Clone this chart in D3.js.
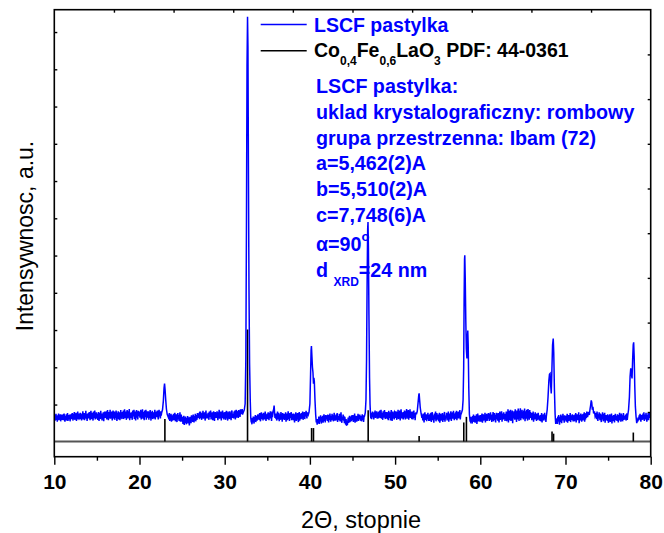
<!DOCTYPE html>
<html>
<head>
<meta charset="utf-8">
<script src="https://d3js.org/d3.v7.min.js"></script>
<style>
  body { margin: 0; background: #fff; }
  text { font-family: "Liberation Sans", Arial, sans-serif; }
</style>
</head>
<body>
<div id="my_dataviz"></div>
<script>
// XRD scan of the LSCF pellet, one row per degree (10.00 ... x.95, step 0.05)
// null = point is taken from the peak detail arrays below
var _ = null
var scanStart = 10, scanStep = 0.05
var scanCounts = [
  [101,112,97,108,115,99,106,94,111,103,116,98,109,100,114,95,107,113,99,110],
  [111,98,105,116,101,94,109,103,114,97,106,117,96,104,112,100,113,95,107,110],
  [114,101,117,106,97,115,108,120,99,111,104,118,96,113,105,121,100,110,116,103],
  [105,118,101,113,97,116,108,122,100,112,117,98,114,104,123,102,111,96,115,107],
  [117,103,120,109,98,115,123,106,101,118,110,97,121,104,114,124,100,112,107,119],
  [102,115,99,111,120,96,108,117,101,123,105,113,97,116,103,119,95,111,121,104],
  [119,105,122,100,114,125,108,98,120,111,103,126,102,116,107,121,97,113,124,106],
  [108,121,99,114,104,124,110,96,118,106,122,100,113,119,98,109,125,103,116,101],
  [120,106,124,101,117,127,104,112,121,99,115,125,108,103,122,111,128,98,118,107],
  [104,119,113,99,124,108,116,126,101,110,121,97,115,125,105,112,100,123,109,118],
  [121,105,114,126,100,118,108,127,102,120,111,98,124,115,106,126,99,117,122,107],
  [108,122,99,116,104,125,111,97,120,106,123,101,114,119,103,110,126,100,117,107],
  [121,106,124,112,100,119,126,108,116,103,122,110,_,_,_,_,_,_,_,_],
  [_,_,_,_,_,_,_,_,113,100,117,96,109,102,115,94,111,104,97,110],
  [115,99,107,118,95,106,114,101,93,110,117,100,112,96,105,119,94,103,113,99],
  [94,107,88,101,110,85,99,91,108,96,87,104,92,109,89,100,106,84,95,107],
  [100,90,111,97,106,93,113,102,92,109,101,115,95,107,112,99,117,104,110,114],
  [116,101,110,121,104,113,99,118,108,123,102,115,106,119,97,111,124,103,114,109],
  [103,118,110,99,121,107,114,124,100,112,105,119,98,115,122,108,96,113,120,104],
  [118,104,122,109,98,119,111,126,102,115,107,121,97,117,110,124,103,114,100,119],
  [106,120,99,114,123,103,111,97,121,108,117,101,122,105,113,98,119,124,104,112],
  [115,103,121,108,124,100,116,126,105,119,110,123,104,125,113,120,107,127,114,122],
  [120,128,113,124,_,_,_,_,_,_,_,_,_,_,_,_,_,_,_,_],
  [_,_,_,96,87,104,92,108,98,89,107,101,112,93,103,110,97,106,114,100],
  [112,99,117,105,95,113,119,101,107,115,97,118,104,111,100,121,108,96,114,103],
  [116,101,119,107,98,117,110,122,103,113,96,121,106,114,124,127,137,120,104,115],
  [102,116,97,111,121,100,109,118,95,114,106,99,120,103,112,94,117,101,110,115],
  [99,113,105,119,94,107,116,98,110,122,101,114,96,117,104,111,120,98,108,113],
  [112,98,116,103,92,114,105,119,96,109,100,117,102,93,111,120,97,106,115,101],
  [117,102,111,121,99,115,106,120,101,118,108,123,112,103,119,114,_,_,_,_],
  [_,_,_,_,_,_,_,_,_,_,_,_,_,_,_,_,99,86,101,90],
  [94,108,88,103,95,111,99,89,107,97,110,91,104,114,96,106,92,112,100,108],
  [109,96,113,101,92,112,99,116,104,94,110,98,115,100,111,95,106,118,97,108],
  [111,97,114,101,117,93,106,109,98,115,103,95,108,119,100,91,107,99,113,102],
  [104,90,107,94,86,101,83,92,85,96,105,91,100,110,93,102,108,95,111,99],
  [99,112,93,107,98,116,91,105,110,100,94,109,103,115,96,108,101,113,104,97],
  [110,95,103,114,98,111,93,107,_,_,_,_,_,_,_,_,_,_,_,_],
  [_,_,_,103,118,101,113,121,106,115,100,119,110,124,104,117,108,122,102,116],
  [117,103,121,109,124,104,115,126,102,118,110,99,122,113,105,125,116,101,120,108],
  [106,120,101,116,98,123,110,104,119,97,113,125,108,96,115,121,103,114,100,120],
  [118,104,122,110,99,120,113,126,101,117,107,124,97,114,127,109,103,119,112,100],
  [120,105,124,111,100,122,115,128,102,118,108,125,99,117,110,127,104,121,114,101],
  [107,121,100,115,124,104,117,98,113,119,_,_,_,_,_,_,_,_,_,_],
  [_,_,_,_,113,97,116,104,92,110,119,99,107,114,95,112,101,118,105,96],
  [112,96,115,102,118,93,107,120,98,111,104,91,116,100,109,121,95,106,117,103],
  [100,113,95,107,118,91,104,115,97,111,102,117,93,108,99,114,120,94,105,110],
  [103,118,97,112,101,121,94,109,116,100,114,122,96,111,105,119,102,123,107,98],
  [116,101,119,106,123,98,113,108,121,103,115,110,125,100,_,_,_,_,_,_],
  [_,_,_,_,_,_,_,_,_,_,_,_,_,_,_,_,_,94,107,99],
  [98,89,109,96,113,93,104,110,91,106,100,114,88,103,116,95,108,99,111,94],
  [101,112,94,107,116,91,104,114,97,109,100,118,92,106,103,115,96,110,102,117],
  [109,96,116,102,119,98,108,93,113,104,120,95,107,117,99,112,92,110,118,101],
  [110,97,117,103,92,114,121,99,111,105,122,94,108,116,100,119,102,113,96,115],
  [104,121,95,117,101,127,92,111,123,98,113,126,96,115,106,124,90,118,103,122],
  [116,99,127,105,120,93,124,109,100,129,114,96,123,106,130,98,118,111,126,103],
  [119,100,124,107,129,95,113,122,102,126,110,97,128,105,118,99,125,104,120,112],
  [113,98,117,103,121,94,109,115,100,119,104,112,96,116,106,99,118,101,110,97],
  [101,112,95,108,117,92,110,99,114,97,106,118,100,111,93,_,_,_,_,_],
  [_,_,_,_,_,_,_,_,_,_,_,_,_,_,_,_,_,_,_,94],
  [103,88,108,95,112,99,86,107,93,113,101,90,110,97,115,98,106,91,111,102],
  [98,110,94,106,115,91,104,112,96,108,100,117,93,105,111,99,114,102,95,109],
  [108,95,113,100,117,92,106,114,98,110,102,119,90,107,112,97,116,103,94,111],
  [112,97,115,101,119,94,110,100,117,104,121,108,_,_,_,_,_,_,_,_],
  [_,_,_,_,_,_,_,_,_,_,_,_,117,101,121,107,96,114,103,119],
  [109,98,116,104,93,113,100,119,107,95,115,102,118,91,108,112,99,111,96,114],
  [99,91,111,97,114,93,106,101,116,89,104,110,96,112,100,92,108,115,98,107],
  [110,96,114,100,92,112,103,118,97,107,94,116,101,111,95,106,117,99,109,102],
  [102,113,97,109,116,99,_,_,_,_,_,_,_,_,_,_,_,_,_,_],
  [_,_,_,_,_,_,_,_,_,_,95,106,98,111,100,115,103,94,112,105],
  [110,99,116,102,119,96,108,113,100,118,105,94,112,103,117,98,114,104,120,107],
  [103]
]

// peak regions read at finer spacing: [2theta, counts]
var peak23 = [[22.6,118],[22.7,126],[22.8,150],[22.88,184],[22.94,196],[23.0,181],[23.08,152],[23.16,128],[23.25,114],[23.35,108]]
var peak33 = [[32.2,120],[32.3,126],[32.4,142],[32.48,260],[32.55,600],[32.62,1050],[32.68,1181],[32.73,1100],[32.78,800],[32.85,450],[32.92,250],[33.0,150],[33.06,104],[33.12,92]]
var peak40 = [[39.8,112],[39.9,120],[40.0,142],[40.08,222],[40.14,286],[40.18,297],[40.24,268],[40.3,240],[40.36,226],[40.42,196],[40.47,212],[40.52,202],[40.6,150],[40.68,112],[40.75,92]]
var peak47 = [[46.4,108],[46.5,118],[46.58,152],[46.65,262],[46.72,480],[46.78,612],[46.82,630],[46.87,560],[46.93,380],[47.0,212],[47.06,140],[47.12,110]]
var peak53 = [[52.5,114],[52.6,122],[52.7,146],[52.78,166],[52.82,170],[52.88,152],[52.95,132],[53.05,116],[53.15,104]]
var peak58 = [[57.7,112],[57.8,118],[57.9,126],[57.98,152],[58.05,240],[58.1,420],[58.15,530],[58.18,541],[58.23,482],[58.3,362],[58.36,290],[58.43,264],[58.48,318],[58.53,339],[58.58,300],[58.65,182],[58.72,114],[58.8,96]]
var peak68 = [[67.75,108],[67.85,126],[67.95,160],[68.05,205],[68.12,221],[68.19,223],[68.26,191],[68.33,170],[68.4,230],[68.48,300],[68.56,317],[68.62,280],[68.7,180],[68.78,114],[68.85,88],[68.92,95]]
var peak73 = [[72.6,108],[72.7,120],[72.8,112],[72.88,128],[72.95,138],[73.02,151],[73.08,146],[73.15,126],[73.22,134],[73.3,116],[73.4,122],[73.48,108],[73.55,112]]
var peak78 = [[77.3,110],[77.4,126],[77.5,160],[77.58,215],[77.66,237],[77.74,221],[77.81,210],[77.88,260],[77.95,300],[78.0,307],[78.06,270],[78.13,190],[78.2,135],[78.28,108],[78.36,90],[78.45,98]]
var peaks = [peak23, peak33, peak40, peak47, peak53, peak58, peak68, peak73, peak78]

// reference pattern Co0,4Fe0,6LaO3, PDF 44-0361 (relative intensity, %)
var pdfAngles = [22.98, 32.68, 40.2, 40.42, 46.84, 52.82, 58.06, 58.37, 68.42, 68.6, 77.96]
var pdfIntensities = [20, 100, 12, 12, 28, 5, 17, 22, 9, 7, 8]

var xTicks = [10, 20, 30, 40, 50, 60, 70, 80]
var xMinorTicks = [15, 25, 35, 45, 55, 65, 75]

var legendLabels = ["LSCF pastylka", "PDF: 44-0361"]
var infoLines = ["LSCF pastylka:", "uklad krystalograficzny: rombowy", "grupa przestrzenna: Ibam (72)",
  "a=5,462(2)A", "b=5,510(2)A", "c=7,748(6)A"]

// set the dimensions and margins of the graph
var margin = { top: 9.7, right: 13.3, bottom: 76.3, left: 54.3 },
  width = 664 - margin.left - margin.right,
  height = 533 - margin.top - margin.bottom;

var root = d3.select("#my_dataviz")
  .append("svg")
  .attr("width", width + margin.left + margin.right)
  .attr("height", height + margin.top + margin.bottom)

var svg = root.append("g")
  .attr("transform", "translate(" + margin.left + "," + margin.top + ")");

var x = d3.scaleLinear().domain([10, 80]).range([0, width])
var y = d3.scaleLinear().domain([0, 1200]).range([height, 0])
// the stick pattern sits on its own baseline under the scan
var yPdf = d3.scaleLinear().domain([0, 100]).range([height - 15.2, height - 127.2])

// build the scan: coarse points outside peak windows + peak detail
var scan = []
scanCounts.forEach(function (row, r) {
  row.forEach(function (v, j) {
    var a = Math.round((scanStart + r + j * scanStep) * 100) / 100
    if (v == null) return
    var inPeak = peaks.some(function (p) { return a >= p[0][0] - 1e-6 && a <= p[p.length - 1][0] + 1e-6 })
    if (!inPeak) scan.push([a, v])
  })
})
peaks.forEach(function (p) { scan = scan.concat(p) })
scan.sort(function (a, b) { return a[0] - b[0] })

svg.append("clipPath").attr("id", "clip")
  .append("rect").attr("width", width).attr("height", height)

// baseline of the PDF pattern
svg.append("line")
  .attr("x1", 0).attr("x2", width)
  .attr("y1", yPdf(0)).attr("y2", yPdf(0))
  .style("stroke", "#555").style("stroke-width", 1.8)

// PDF sticks
svg.selectAll("pdfStick")
  .data(pdfAngles)
  .enter()
  .append("line")
  .attr("x1", function (d) { return x(d) })
  .attr("x2", function (d) { return x(d) })
  .attr("y1", yPdf(0))
  .attr("y2", function (d, i) { return yPdf(pdfIntensities[i]) })
  .style("stroke", "black")
  .style("stroke-width", 1.6)

// the measured scan
svg.append("path")
  .datum(scan)
  .attr("clip-path", "url(#clip)")
  .attr("d", d3.line().x(function (d) { return x(d[0]) }).y(function (d) { return y(d[1]) }))
  .style("fill", "none")
  .style("stroke", "#0000ff")
  .style("stroke-width", 1.5)

// axes
var xAxis = svg.append("g")
  .attr("transform", "translate(0," + height + ")")
  .call(d3.axisBottom(x).tickValues(xTicks).tickSize(8).tickPadding(9).tickFormat(d3.format("d")))
xAxis.selectAll("text")
  .style("font-size", "21px").style("font-weight", "bold").style("fill", "black")
  .style("font-family", '"Liberation Sans", Arial, sans-serif')

svg.append("g")
  .attr("transform", "translate(0," + height + ")")
  .call(d3.axisBottom(x).tickValues(xMinorTicks).tickSize(4).tickFormat(""))

svg.append("g")
  .call(d3.axisLeft(y).tickValues(d3.range(140, 1141, 100)).tickSize(-3).tickFormat(""))

var div = d3.scaleLinear().domain([0, 10])
svg.append("g")
  .call(d3.axisTop(div.copy().range([0, width])).tickValues(d3.range(1, 10)).tickSize(-3).tickFormat(""))
svg.append("g")
  .attr("transform", "translate(" + width + ",0)")
  .call(d3.axisRight(div.copy().range([height, 0])).tickValues(d3.range(1, 10)).tickSize(-3).tickFormat(""))

svg.selectAll(".domain").remove()
svg.selectAll(".tick line").style("stroke", "black").style("stroke-width", 1.4)

// frame
svg.append("rect")
  .attr("width", width).attr("height", height)
  .style("fill", "none").style("stroke", "black").style("stroke-width", 1.6)

// axis titles
root.append("text")
  .attr("transform", "translate(33,236) rotate(-90)")
  .attr("text-anchor", "middle")
  .style("font-size", "23px")
  .text("Intensywnosc, a.u.")

root.append("text")
  .attr("x", 361).attr("y", 528)
  .attr("text-anchor", "middle")
  .style("font-size", "23.5px")
  .text("2\u0398, stopnie")

// legend
var legend = root.append("g").style("font-size", "19.5px").style("font-weight", "bold")
legend.append("line").attr("x1", 260.7).attr("x2", 306.7).attr("y1", 24.5).attr("y2", 24.5)
  .style("stroke", "#0000ff").style("stroke-width", 1.4)
legend.append("text").attr("x", 314).attr("y", 31.7).style("fill", "#0000ff").text(legendLabels[0])
legend.append("line").attr("x1", 260.7).attr("x2", 306.7).attr("y1", 50.7).attr("y2", 50.7)
  .style("stroke", "black").style("stroke-width", 1.4)
var l2 = legend.append("text").attr("x", 314).attr("y", 57.3).style("fill", "black")
l2.append("tspan").text("Co")
l2.append("tspan").attr("dy", 8).style("font-size", "12px").text("0,4")
l2.append("tspan").attr("dy", -8).text("Fe")
l2.append("tspan").attr("dy", 8).style("font-size", "12px").text("0,6")
l2.append("tspan").attr("dy", -8).text("LaO")
l2.append("tspan").attr("dy", 8).style("font-size", "12px").text("3")
l2.append("tspan").attr("dy", -8).text(" " + legendLabels[1])

// crystallographic info
var info = root.append("g").style("font-size", "19.7px").style("font-weight", "bold").style("fill", "#0000ff")
info.selectAll("infoLine")
  .data(infoLines)
  .enter()
  .append("text")
  .attr("x", 316)
  .attr("y", function (d, i) { return 93 + i * 25.8 })
  .text(function (d) { return d })

var alpha = info.append("text").attr("x", 316).attr("y", 251)
alpha.append("tspan").text("\u03b1=90")
alpha.append("tspan").attr("dy", -10).style("font-size", "13px").text("o")

var dx = info.append("text").attr("x", 316).attr("y", 277)
dx.append("tspan").text("d ")
dx.append("tspan").attr("dy", 9).style("font-size", "12px").text("XRD")
dx.append("tspan").attr("dy", -9).text("=24 nm")
</script>
</body>
</html>
